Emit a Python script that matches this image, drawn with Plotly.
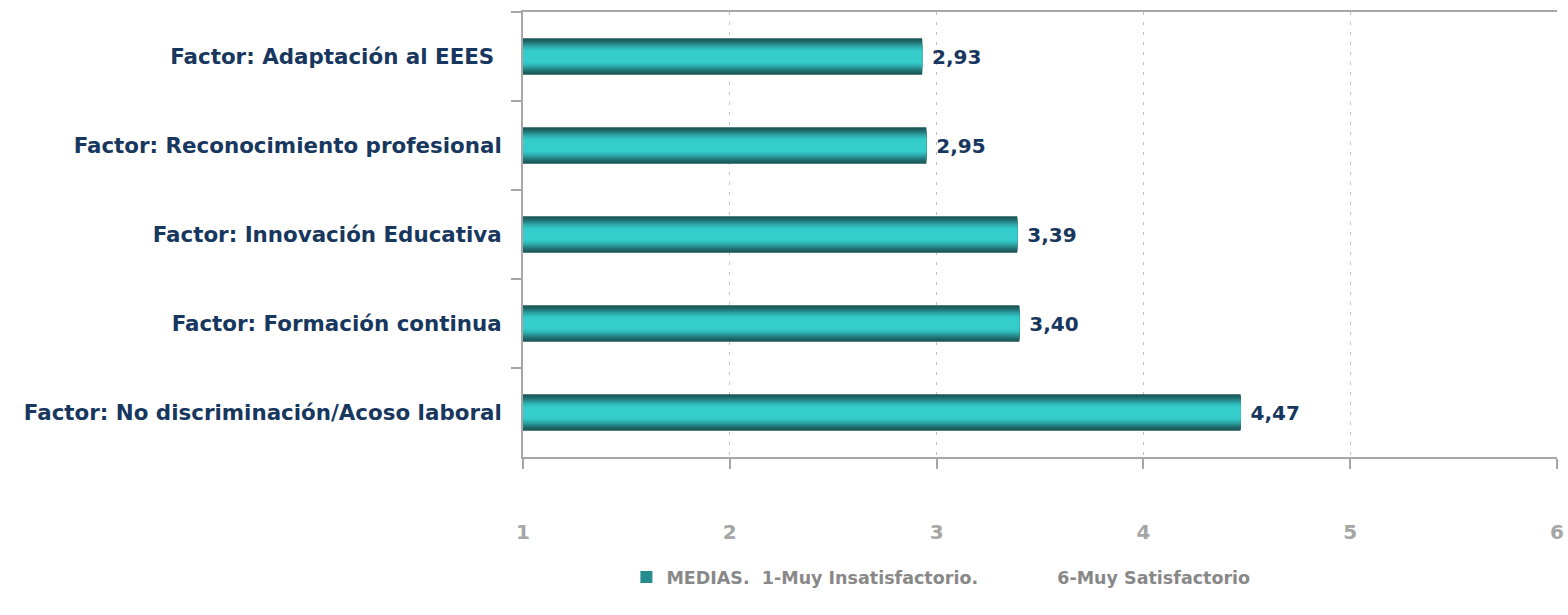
import plotly.graph_objects as go

categories = [
    "Factor: Adaptación al EEES\u00a0",
    "Factor: Reconocimiento profesional",
    "Factor: Innovación Educativa",
    "Factor: Formación continua",
    "Factor: No discriminación/Acoso laboral",
]
values = [2.93, 2.95, 3.39, 3.40, 4.47]
x_ticks = [1, 2, 3, 4, 5, 6]
legend_name = ("MEDIAS.\u00a0 1-Muy Insatisfactorio."
               "\u00a0\u00a0\u00a0\u00a0\u00a0\u00a0\u00a0\u00a0\u00a0\u00a0\u00a0\u00a0 6-Muy Satisfactorio")

# gradient layers (outer dark -> inner bright)
layer_widths = [0.41, 0.385, 0.36, 0.335, 0.31, 0.285, 0.26, 0.235, 0.21, 0.185, 0.16, 0.135]
layer_colors = ["#195455", "#1b5c5d", "#1e6667", "#217173", "#247e80", "#278c8e",
                "#2a9a9b", "#2ca7a8", "#2fb3b4", "#31bebe", "#33c6c6", "#35cccc"]

FONT = "DejaVu Sans"
NAVY = "#17375E"
GRAY = "#A6A6A6"
LEGEND_GRAY = "#888888"

fig = go.Figure()
for i, (w, c) in enumerate(zip(layer_widths, layer_colors)):
    fig.add_trace(go.Bar(
        y=categories, x=[v - 1 for v in values], base=1,
        orientation="h", width=w,
        marker=dict(color=c, line=dict(width=0)),
        showlegend=(i == 5), name=legend_name,
        text=[" " + f"{v:.2f}".replace(".", ",") for v in values] if i == 0 else None,
        textposition="outside" if i == 0 else None,
        textfont=dict(family=FONT, size=20, color=NAVY, weight="bold"),
        cliponaxis=False, hoverinfo="skip",
    ))

fig.update_layout(
    width=1568, height=615,
    margin=dict(l=523, r=11, t=12, b=158, autoexpand=False),
    plot_bgcolor="white", paper_bgcolor="white",
    barmode="overlay",
    font=dict(family=FONT),
    legend=dict(
        orientation="h", x=0.1, xanchor="left", y=-0.27, yanchor="middle",
        font=dict(family=FONT, size=17.5, color=LEGEND_GRAY, weight="bold"),
    ),
    xaxis=dict(
        range=[1, 6], tickvals=x_ticks, ticktext=[str(t) for t in x_ticks],
        showgrid=True, gridcolor="#BFBFBF", griddash="3px,7px", gridwidth=1,
        showline=True, linecolor="#A6A6A6", linewidth=2, mirror=True,
        ticks="outside", ticklen=10, tickcolor="#A6A6A6", tickwidth=2,
        tickfont=dict(family=FONT, size=20, color=GRAY, weight="bold"),
        ticklabelstandoff=46, zeroline=False, automargin=False,
    ),
    yaxis=dict(
        autorange="reversed", tickson="boundaries",
        showline=True, linecolor="#A6A6A6", linewidth=2,
        ticks="outside", ticklen=10, tickcolor="#A6A6A6", tickwidth=2,
        tickfont=dict(family=FONT, size=21.4, color=NAVY, weight="bold"),
        ticklabelstandoff=15, showgrid=False, automargin=False,
    ),
)

fig.write_html("out.html", config={"displayModeBar": False},
               post_script="document.body.style.margin='0';")
